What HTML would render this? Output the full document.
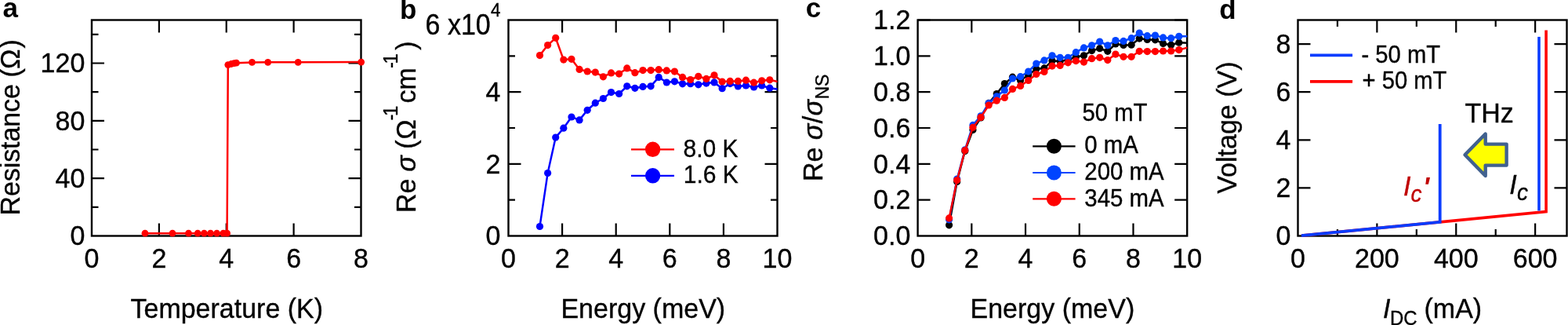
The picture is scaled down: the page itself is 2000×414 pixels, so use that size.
<!DOCTYPE html>
<html><head><meta charset="utf-8"><title>Figure</title>
<style>html,body{margin:0;padding:0;background:#fff;}svg{display:block;}</style>
</head><body>
<svg width="2000" height="414" viewBox="0 0 2000 414" font-family="Liberation Sans, Arial, sans-serif" fill="#000">
<rect width="2000" height="414" fill="#fff"/>
<defs>
<clipPath id="ca"><rect x="117" y="25.5" width="343.5" height="275"/></clipPath>
<clipPath id="cb"><rect x="648.5" y="25.5" width="343" height="275"/></clipPath>
<clipPath id="cc"><rect x="1170.6" y="25.5" width="343.6" height="275"/></clipPath>
<clipPath id="cd"><rect x="1655.5" y="25.5" width="343" height="275"/></clipPath>
</defs>
<path d="M202.88 300.5V284.5M202.88 25.5V41.5M288.75 300.5V284.5M288.75 25.5V41.5M374.62 300.5V284.5M374.62 25.5V41.5M117 227.17H133M460.5 227.17H444.5M117 153.83H133M460.5 153.83H444.5M117 80.5H133M460.5 80.5H444.5M117 263.83H125.5M460.5 263.83H452M117 190.5H125.5M460.5 190.5H452M117 117.17H125.5M460.5 117.17H452M117 43.83H125.5M460.5 43.83H452" stroke="#000" stroke-width="2.2" fill="none"/>
<rect x="117" y="25.5" width="343.5" height="275" fill="none" stroke="#000" stroke-width="2.4" stroke-linejoin="miter"/>
<polyline points="185,297.2 220,297.2 240.5,297.2 252.2,297.2 260.4,297.2 268.5,297.2 276.6,297.2 284.8,297.2 289.6,297.2 290.8,82.6 295,81.5 298.5,80.6 301.5,80.2 321.5,79.4 341.7,79.3 380.2,79.3 460.7,79.1" fill="none" stroke="#ff0000" stroke-width="2.5" stroke-linejoin="round"/>
<g fill="#ff0000"><circle cx="185" cy="297.2" r="4.4"/><circle cx="220" cy="297.2" r="4.4"/><circle cx="240.5" cy="297.2" r="4.4"/><circle cx="252.2" cy="297.2" r="4.4"/><circle cx="260.4" cy="297.2" r="4.4"/><circle cx="268.5" cy="297.2" r="4.4"/><circle cx="276.6" cy="297.2" r="4.4"/><circle cx="284.8" cy="297.2" r="4.4"/><circle cx="289.6" cy="297.2" r="4.4"/><circle cx="290.8" cy="82.6" r="4.4"/><circle cx="295" cy="81.5" r="4.4"/><circle cx="298.5" cy="80.6" r="4.4"/><circle cx="301.5" cy="80.2" r="4.4"/><circle cx="321.5" cy="79.4" r="4.4"/><circle cx="341.7" cy="79.3" r="4.4"/><circle cx="380.2" cy="79.3" r="4.4"/><circle cx="460.7" cy="79.1" r="4.4"/></g>
<text transform="translate(108.3 312.3) scale(1 1.05)" font-size="34" text-anchor="end" stroke="#000" stroke-width="0.35">0</text>
<text transform="translate(108.3 238.97) scale(1 1.05)" font-size="34" text-anchor="end" stroke="#000" stroke-width="0.35">40</text>
<text transform="translate(108.3 165.63) scale(1 1.05)" font-size="34" text-anchor="end" stroke="#000" stroke-width="0.35">80</text>
<text transform="translate(108.3 92.3) scale(1 1.05)" font-size="34" text-anchor="end" stroke="#000" stroke-width="0.35">120</text>
<text transform="translate(117 341) scale(1 1.05)" font-size="34" text-anchor="middle" stroke="#000" stroke-width="0.35">0</text>
<text transform="translate(202.88 341) scale(1 1.05)" font-size="34" text-anchor="middle" stroke="#000" stroke-width="0.35">2</text>
<text transform="translate(288.75 341) scale(1 1.05)" font-size="34" text-anchor="middle" stroke="#000" stroke-width="0.35">4</text>
<text transform="translate(374.62 341) scale(1 1.05)" font-size="34" text-anchor="middle" stroke="#000" stroke-width="0.35">6</text>
<text transform="translate(460.5 341) scale(1 1.05)" font-size="34" text-anchor="middle" stroke="#000" stroke-width="0.35">8</text>
<text transform="translate(289.3 405.2) scale(1 1.05)" font-size="34" text-anchor="middle" stroke="#000" stroke-width="0.35">Temperature (K)</text>
<text transform="translate(25 274.4) rotate(-90) scale(1 1.05)" font-size="34" letter-spacing="-0.1" stroke="#000" stroke-width="0.35">Resistance</text>
<text transform="translate(25 98.6) rotate(-90) scale(1 1.05)" font-size="34" stroke="#000" stroke-width="0.35">(</text>
<text transform="translate(25 88) rotate(-90) scale(1 1.05)" font-size="34" stroke="#000" stroke-width="0.35">Ω</text>
<text transform="translate(25 61.4) rotate(-90) scale(1 1.05)" font-size="34" stroke="#000" stroke-width="0.35">)</text>
<text transform="translate(3.5 21.9) scale(1 1)" font-size="35" font-weight="bold">a</text>
<path d="M717.1 300.5V284.5M717.1 25.5V41.5M785.7 300.5V284.5M785.7 25.5V41.5M854.3 300.5V284.5M854.3 25.5V41.5M922.9 300.5V284.5M922.9 25.5V41.5M648.5 208.83H664.5M991.5 208.83H975.5M648.5 117.17H664.5M991.5 117.17H975.5M648.5 254.67H657M991.5 254.67H983M648.5 163H657M991.5 163H983M648.5 71.33H657M991.5 71.33H983" stroke="#000" stroke-width="2.2" fill="none"/>
<rect x="648.5" y="25.5" width="343" height="275" fill="none" stroke="#000" stroke-width="2.4" stroke-linejoin="miter"/>
<polyline points="688.5,288.5 698.61,220.6 708.73,175.1 718.84,163.2 728.96,149 739.07,152.9 749.18,140.3 759.3,131.2 769.41,125.5 779.53,117.6 789.64,119.5 799.75,109.8 809.87,112.3 819.98,110.4 830.1,109.8 840.21,98.4 850.32,105 860.44,103.8 870.55,106.8 880.67,106.7 890.78,107.8 900.89,106.1 911.01,104.9 921.12,112.7 931.24,106.6 941.35,110 951.46,109 961.58,111 971.69,109 981.81,112.2 1001.9,115" fill="none" stroke="#0000ff" stroke-width="2.5" stroke-linejoin="round" clip-path="url(#cb)"/>
<g fill="#0000ff"><circle cx="688.5" cy="288.5" r="4.6"/><circle cx="698.61" cy="220.6" r="4.6"/><circle cx="708.73" cy="175.1" r="4.6"/><circle cx="718.84" cy="163.2" r="4.6"/><circle cx="728.96" cy="149" r="4.6"/><circle cx="739.07" cy="152.9" r="4.6"/><circle cx="749.18" cy="140.3" r="4.6"/><circle cx="759.3" cy="131.2" r="4.6"/><circle cx="769.41" cy="125.5" r="4.6"/><circle cx="779.53" cy="117.6" r="4.6"/><circle cx="789.64" cy="119.5" r="4.6"/><circle cx="799.75" cy="109.8" r="4.6"/><circle cx="809.87" cy="112.3" r="4.6"/><circle cx="819.98" cy="110.4" r="4.6"/><circle cx="830.1" cy="109.8" r="4.6"/><circle cx="840.21" cy="98.4" r="4.6"/><circle cx="850.32" cy="105" r="4.6"/><circle cx="860.44" cy="103.8" r="4.6"/><circle cx="870.55" cy="106.8" r="4.6"/><circle cx="880.67" cy="106.7" r="4.6"/><circle cx="890.78" cy="107.8" r="4.6"/><circle cx="900.89" cy="106.1" r="4.6"/><circle cx="911.01" cy="104.9" r="4.6"/><circle cx="921.12" cy="112.7" r="4.6"/><circle cx="931.24" cy="106.6" r="4.6"/><circle cx="941.35" cy="110" r="4.6"/><circle cx="951.46" cy="109" r="4.6"/><circle cx="961.58" cy="111" r="4.6"/><circle cx="971.69" cy="109" r="4.6"/><circle cx="981.81" cy="112.2" r="4.6"/></g>
<polyline points="688.5,70.6 698.61,57.6 708.73,48.3 718.84,76.1 728.96,75.3 739.07,88.4 749.18,91 759.3,92.1 769.41,97.8 779.53,92.9 789.64,94.1 799.75,86.9 809.87,92.7 819.98,89.6 830.1,89.6 840.21,88.7 850.32,89.9 860.44,91.1 870.55,98.4 880.67,101.5 890.78,97.3 900.89,100.4 911.01,95.8 921.12,104 931.24,103.4 941.35,103.4 951.46,102.2 961.58,105.2 971.69,102.8 981.81,101.8 1001.9,106.2" fill="none" stroke="#ff0000" stroke-width="2.5" stroke-linejoin="round" clip-path="url(#cb)"/>
<g fill="#ff0000"><circle cx="688.5" cy="70.6" r="4.6"/><circle cx="698.61" cy="57.6" r="4.6"/><circle cx="708.73" cy="48.3" r="4.6"/><circle cx="718.84" cy="76.1" r="4.6"/><circle cx="728.96" cy="75.3" r="4.6"/><circle cx="739.07" cy="88.4" r="4.6"/><circle cx="749.18" cy="91" r="4.6"/><circle cx="759.3" cy="92.1" r="4.6"/><circle cx="769.41" cy="97.8" r="4.6"/><circle cx="779.53" cy="92.9" r="4.6"/><circle cx="789.64" cy="94.1" r="4.6"/><circle cx="799.75" cy="86.9" r="4.6"/><circle cx="809.87" cy="92.7" r="4.6"/><circle cx="819.98" cy="89.6" r="4.6"/><circle cx="830.1" cy="89.6" r="4.6"/><circle cx="840.21" cy="88.7" r="4.6"/><circle cx="850.32" cy="89.9" r="4.6"/><circle cx="860.44" cy="91.1" r="4.6"/><circle cx="870.55" cy="98.4" r="4.6"/><circle cx="880.67" cy="101.5" r="4.6"/><circle cx="890.78" cy="97.3" r="4.6"/><circle cx="900.89" cy="100.4" r="4.6"/><circle cx="911.01" cy="95.8" r="4.6"/><circle cx="921.12" cy="104" r="4.6"/><circle cx="931.24" cy="103.4" r="4.6"/><circle cx="941.35" cy="103.4" r="4.6"/><circle cx="951.46" cy="102.2" r="4.6"/><circle cx="961.58" cy="105.2" r="4.6"/><circle cx="971.69" cy="102.8" r="4.6"/><circle cx="981.81" cy="101.8" r="4.6"/></g>
<text transform="translate(638.5 312.3) scale(1 1.05)" font-size="34" text-anchor="end" stroke="#000" stroke-width="0.35">0</text>
<text transform="translate(638.5 220.63) scale(1 1.05)" font-size="34" text-anchor="end" stroke="#000" stroke-width="0.35">2</text>
<text transform="translate(638.5 128.97) scale(1 1.05)" font-size="34" text-anchor="end" stroke="#000" stroke-width="0.35">4</text>
<text transform="translate(648.5 341) scale(1 1.05)" font-size="34" text-anchor="middle" stroke="#000" stroke-width="0.35">0</text>
<text transform="translate(717.1 341) scale(1 1.05)" font-size="34" text-anchor="middle" stroke="#000" stroke-width="0.35">2</text>
<text transform="translate(785.7 341) scale(1 1.05)" font-size="34" text-anchor="middle" stroke="#000" stroke-width="0.35">4</text>
<text transform="translate(854.3 341) scale(1 1.05)" font-size="34" text-anchor="middle" stroke="#000" stroke-width="0.35">6</text>
<text transform="translate(922.9 341) scale(1 1.05)" font-size="34" text-anchor="middle" stroke="#000" stroke-width="0.35">8</text>
<text transform="translate(991.5 341) scale(1 1.05)" font-size="34" text-anchor="middle" stroke="#000" stroke-width="0.35">10</text>
<text transform="translate(820.3 404.9) scale(1 1.05)" font-size="34" text-anchor="middle" stroke="#000" stroke-width="0.35">Energy (meV)</text>
<text transform="translate(542.6 43.7) scale(1 1.065)" font-size="34" stroke="#000" stroke-width="0.35">6 x10</text>
<text transform="translate(626 20.6) scale(1 1.05)" font-size="22.5" stroke="#000" stroke-width="0.35">4</text>
<text transform="translate(530 271) rotate(-90) scale(1 1.05)" font-size="34" stroke="#000" stroke-width="0.35">Re</text>
<text transform="translate(530 218.7) rotate(-90) scale(1 1.05)" font-size="34" font-style="italic" stroke="#000" stroke-width="0.35">σ</text>
<text transform="translate(530 189.7) rotate(-90) scale(1 1.05)" font-size="34" stroke="#000" stroke-width="0.35">(</text>
<text transform="translate(530 177.7) rotate(-90) scale(1 1.05)" font-size="34" stroke="#000" stroke-width="0.35">Ω</text>
<text transform="translate(507.2 153.6) rotate(-90) scale(1 1.05)" font-size="24" letter-spacing="-2.5" stroke="#000" stroke-width="0.35">-1</text>
<text transform="translate(530 131.5) rotate(-90) scale(1 1.05)" font-size="34" stroke="#000" stroke-width="0.35">cm</text>
<text transform="translate(507.2 87) rotate(-90) scale(1 1.05)" font-size="24" letter-spacing="-2.5" stroke="#000" stroke-width="0.35">-1</text>
<text transform="translate(530 63.8) rotate(-90) scale(1 1.05)" font-size="34" stroke="#000" stroke-width="0.35">)</text>
<text transform="translate(510.1 24.4) scale(1 1)" font-size="35" font-weight="bold">b</text>
<line x1="805" y1="190.3" x2="860" y2="190.3" stroke="#ff0000" stroke-width="2.2"/>
<circle cx="832.6" cy="190.3" r="9.7" fill="#ff0000"/>
<line x1="805" y1="223.8" x2="860" y2="223.8" stroke="#0000ff" stroke-width="2.2"/>
<circle cx="832.6" cy="223.8" r="9.7" fill="#0000ff"/>
<text transform="translate(871.5 200.1) scale(1 1.05)" font-size="30" stroke="#000" stroke-width="0.35">8.0 K</text>
<text transform="translate(871.7 232.9) scale(1 1.05)" font-size="30" stroke="#000" stroke-width="0.35">1.6 K</text>
<path d="M1239.32 300.5V284.5M1239.32 25.5V41.5M1308.04 300.5V284.5M1308.04 25.5V41.5M1376.76 300.5V284.5M1376.76 25.5V41.5M1445.48 300.5V284.5M1445.48 25.5V41.5M1170.6 254.67H1186.6M1514.2 254.67H1498.2M1170.6 208.83H1186.6M1514.2 208.83H1498.2M1170.6 163H1186.6M1514.2 163H1498.2M1170.6 117.17H1186.6M1514.2 117.17H1498.2M1170.6 71.33H1186.6M1514.2 71.33H1498.2M1170.6 25.5H1186.6M1514.2 25.5H1498.2" stroke="#000" stroke-width="2.2" fill="none"/>
<rect x="1170.6" y="25.5" width="343.6" height="275" fill="none" stroke="#000" stroke-width="2.4" stroke-linejoin="miter"/>
<polyline points="1210.6,286.8 1220.71,231.5 1230.82,192.5 1240.93,165.5 1251.04,150 1261.15,131.4 1271.26,119.5 1281.37,106.6 1291.48,98.2 1301.59,102.5 1311.7,95.4 1321.81,87.8 1331.92,86.9 1342.03,77.6 1352.14,78 1362.25,76.2 1372.36,72.5 1382.47,70.8 1392.58,64.6 1402.69,61.7 1412.8,65.3 1422.91,56 1433.02,57.5 1443.13,57.2 1453.24,49.1 1463.35,50.5 1473.46,50.8 1483.57,55.4 1493.68,57.2 1503.79,54.2 1524,55.4" fill="none" stroke="#000000" stroke-width="2.5" stroke-linejoin="round" clip-path="url(#cc)"/>
<g fill="#000000"><circle cx="1210.6" cy="286.8" r="4.6"/><circle cx="1220.71" cy="231.5" r="4.6"/><circle cx="1230.82" cy="192.5" r="4.6"/><circle cx="1240.93" cy="165.5" r="4.6"/><circle cx="1251.04" cy="150" r="4.6"/><circle cx="1261.15" cy="131.4" r="4.6"/><circle cx="1271.26" cy="119.5" r="4.6"/><circle cx="1281.37" cy="106.6" r="4.6"/><circle cx="1291.48" cy="98.2" r="4.6"/><circle cx="1301.59" cy="102.5" r="4.6"/><circle cx="1311.7" cy="95.4" r="4.6"/><circle cx="1321.81" cy="87.8" r="4.6"/><circle cx="1331.92" cy="86.9" r="4.6"/><circle cx="1342.03" cy="77.6" r="4.6"/><circle cx="1352.14" cy="78" r="4.6"/><circle cx="1362.25" cy="76.2" r="4.6"/><circle cx="1372.36" cy="72.5" r="4.6"/><circle cx="1382.47" cy="70.8" r="4.6"/><circle cx="1392.58" cy="64.6" r="4.6"/><circle cx="1402.69" cy="61.7" r="4.6"/><circle cx="1412.8" cy="65.3" r="4.6"/><circle cx="1422.91" cy="56" r="4.6"/><circle cx="1433.02" cy="57.5" r="4.6"/><circle cx="1443.13" cy="57.2" r="4.6"/><circle cx="1453.24" cy="49.1" r="4.6"/><circle cx="1463.35" cy="50.5" r="4.6"/><circle cx="1473.46" cy="50.8" r="4.6"/><circle cx="1483.57" cy="55.4" r="4.6"/><circle cx="1493.68" cy="57.2" r="4.6"/><circle cx="1503.79" cy="54.2" r="4.6"/></g>
<polyline points="1210.6,279.8 1220.71,228 1230.82,190.8 1240.93,159.4 1251.04,147.8 1261.15,131.5 1271.26,122.8 1281.37,115 1291.48,100 1301.59,97.7 1311.7,91.1 1321.81,81 1331.92,76.9 1342.03,70.8 1352.14,73.3 1362.25,73.3 1372.36,66.7 1382.47,60.9 1392.58,57.8 1402.69,53 1412.8,57.8 1422.91,51.5 1433.02,52.4 1443.13,48.7 1453.24,42.1 1463.35,45.7 1473.46,45.1 1483.57,47.9 1493.68,48.7 1503.79,46.3 1524,46.3" fill="none" stroke="#0044ff" stroke-width="2.5" stroke-linejoin="round" clip-path="url(#cc)"/>
<g fill="#0044ff"><circle cx="1210.6" cy="279.8" r="4.6"/><circle cx="1220.71" cy="228" r="4.6"/><circle cx="1230.82" cy="190.8" r="4.6"/><circle cx="1240.93" cy="159.4" r="4.6"/><circle cx="1251.04" cy="147.8" r="4.6"/><circle cx="1261.15" cy="131.5" r="4.6"/><circle cx="1271.26" cy="122.8" r="4.6"/><circle cx="1281.37" cy="115" r="4.6"/><circle cx="1291.48" cy="100" r="4.6"/><circle cx="1301.59" cy="97.7" r="4.6"/><circle cx="1311.7" cy="91.1" r="4.6"/><circle cx="1321.81" cy="81" r="4.6"/><circle cx="1331.92" cy="76.9" r="4.6"/><circle cx="1342.03" cy="70.8" r="4.6"/><circle cx="1352.14" cy="73.3" r="4.6"/><circle cx="1362.25" cy="73.3" r="4.6"/><circle cx="1372.36" cy="66.7" r="4.6"/><circle cx="1382.47" cy="60.9" r="4.6"/><circle cx="1392.58" cy="57.8" r="4.6"/><circle cx="1402.69" cy="53" r="4.6"/><circle cx="1412.8" cy="57.8" r="4.6"/><circle cx="1422.91" cy="51.5" r="4.6"/><circle cx="1433.02" cy="52.4" r="4.6"/><circle cx="1443.13" cy="48.7" r="4.6"/><circle cx="1453.24" cy="42.1" r="4.6"/><circle cx="1463.35" cy="45.7" r="4.6"/><circle cx="1473.46" cy="45.1" r="4.6"/><circle cx="1483.57" cy="47.9" r="4.6"/><circle cx="1493.68" cy="48.7" r="4.6"/><circle cx="1503.79" cy="46.3" r="4.6"/></g>
<polyline points="1210.6,277.9 1220.71,229.6 1230.82,191.6 1240.93,162.3 1251.04,149.4 1261.15,134 1271.26,128.2 1281.37,124.4 1291.48,113.4 1301.59,109.4 1311.7,102.5 1321.81,94.5 1331.92,91.5 1342.03,84.1 1352.14,83.4 1362.25,79.8 1372.36,77.6 1382.47,79.1 1392.58,74.7 1402.69,73.3 1412.8,76.6 1422.91,69.1 1433.02,72.3 1443.13,72.3 1453.24,65.3 1463.35,65.6 1473.46,65.6 1483.57,65 1493.68,65 1503.79,63.6 1524,58" fill="none" stroke="#ff0000" stroke-width="2.5" stroke-linejoin="round" clip-path="url(#cc)"/>
<g fill="#ff0000"><circle cx="1210.6" cy="277.9" r="4.6"/><circle cx="1220.71" cy="229.6" r="4.6"/><circle cx="1230.82" cy="191.6" r="4.6"/><circle cx="1240.93" cy="162.3" r="4.6"/><circle cx="1251.04" cy="149.4" r="4.6"/><circle cx="1261.15" cy="134" r="4.6"/><circle cx="1271.26" cy="128.2" r="4.6"/><circle cx="1281.37" cy="124.4" r="4.6"/><circle cx="1291.48" cy="113.4" r="4.6"/><circle cx="1301.59" cy="109.4" r="4.6"/><circle cx="1311.7" cy="102.5" r="4.6"/><circle cx="1321.81" cy="94.5" r="4.6"/><circle cx="1331.92" cy="91.5" r="4.6"/><circle cx="1342.03" cy="84.1" r="4.6"/><circle cx="1352.14" cy="83.4" r="4.6"/><circle cx="1362.25" cy="79.8" r="4.6"/><circle cx="1372.36" cy="77.6" r="4.6"/><circle cx="1382.47" cy="79.1" r="4.6"/><circle cx="1392.58" cy="74.7" r="4.6"/><circle cx="1402.69" cy="73.3" r="4.6"/><circle cx="1412.8" cy="76.6" r="4.6"/><circle cx="1422.91" cy="69.1" r="4.6"/><circle cx="1433.02" cy="72.3" r="4.6"/><circle cx="1443.13" cy="72.3" r="4.6"/><circle cx="1453.24" cy="65.3" r="4.6"/><circle cx="1463.35" cy="65.6" r="4.6"/><circle cx="1473.46" cy="65.6" r="4.6"/><circle cx="1483.57" cy="65" r="4.6"/><circle cx="1493.68" cy="65" r="4.6"/><circle cx="1503.79" cy="63.6" r="4.6"/></g>
<text transform="translate(1161.3 312.3) scale(1 1.05)" font-size="34" text-anchor="end" stroke="#000" stroke-width="0.35">0.0</text>
<text transform="translate(1161.3 266.47) scale(1 1.05)" font-size="34" text-anchor="end" stroke="#000" stroke-width="0.35">0.2</text>
<text transform="translate(1161.3 220.63) scale(1 1.05)" font-size="34" text-anchor="end" stroke="#000" stroke-width="0.35">0.4</text>
<text transform="translate(1161.3 174.8) scale(1 1.05)" font-size="34" text-anchor="end" stroke="#000" stroke-width="0.35">0.6</text>
<text transform="translate(1161.3 128.97) scale(1 1.05)" font-size="34" text-anchor="end" stroke="#000" stroke-width="0.35">0.8</text>
<text transform="translate(1161.3 83.13) scale(1 1.05)" font-size="34" text-anchor="end" stroke="#000" stroke-width="0.35">1.0</text>
<text transform="translate(1161.3 37.3) scale(1 1.05)" font-size="34" text-anchor="end" stroke="#000" stroke-width="0.35">1.2</text>
<text transform="translate(1170.6 341) scale(1 1.05)" font-size="34" text-anchor="middle" stroke="#000" stroke-width="0.35">0</text>
<text transform="translate(1239.32 341) scale(1 1.05)" font-size="34" text-anchor="middle" stroke="#000" stroke-width="0.35">2</text>
<text transform="translate(1308.04 341) scale(1 1.05)" font-size="34" text-anchor="middle" stroke="#000" stroke-width="0.35">4</text>
<text transform="translate(1376.76 341) scale(1 1.05)" font-size="34" text-anchor="middle" stroke="#000" stroke-width="0.35">6</text>
<text transform="translate(1445.48 341) scale(1 1.05)" font-size="34" text-anchor="middle" stroke="#000" stroke-width="0.35">8</text>
<text transform="translate(1514.2 341) scale(1 1.05)" font-size="34" text-anchor="middle" stroke="#000" stroke-width="0.35">10</text>
<text transform="translate(1342.4 404.9) scale(1 1.05)" font-size="34" text-anchor="middle" stroke="#000" stroke-width="0.35">Energy (meV)</text>
<text transform="translate(1048.7 231) rotate(-90) scale(1 1.05)" font-size="34" stroke="#000" stroke-width="0.35">Re</text>
<text transform="translate(1048.7 178.3) rotate(-90) scale(1 1.05)" font-size="34" font-style="italic" stroke="#000" stroke-width="0.35">σ</text>
<text transform="translate(1048.7 157.3) rotate(-90) scale(1 1.05)" font-size="34" stroke="#000" stroke-width="0.35">/</text>
<text transform="translate(1048.7 147.6) rotate(-90) scale(1 1.05)" font-size="34" font-style="italic" stroke="#000" stroke-width="0.35">σ</text>
<text transform="translate(1056.6 126.5) rotate(-90) scale(1 1.05)" font-size="23" stroke="#000" stroke-width="0.35">NS</text>
<text transform="translate(1027.7 21.9) scale(1 1)" font-size="35" font-weight="bold">c</text>
<text transform="translate(1380.5 153.7) scale(1 1.05)" font-size="29.3" stroke="#000" stroke-width="0.35">50 mT</text>
<line x1="1317.2" y1="186.3" x2="1371.6" y2="186.3" stroke="#000000" stroke-width="2.2"/>
<circle cx="1344.4" cy="186.3" r="9.5" fill="#000000"/>
<text transform="translate(1383.3 195.1) scale(1 1.05)" font-size="29.4" stroke="#000" stroke-width="0.35">0 mA</text>
<line x1="1317.2" y1="220.0" x2="1371.6" y2="220.0" stroke="#0044ff" stroke-width="2.2"/>
<circle cx="1344.4" cy="220.0" r="9.5" fill="#0044ff"/>
<text transform="translate(1383.3 229.2) scale(1 1.05)" font-size="29.4" stroke="#000" stroke-width="0.35">200 mA</text>
<line x1="1317.2" y1="253.3" x2="1371.6" y2="253.3" stroke="#ff0000" stroke-width="2.2"/>
<circle cx="1344.4" cy="253.3" r="9.5" fill="#ff0000"/>
<text transform="translate(1383.3 262.5) scale(1 1.05)" font-size="29.4" stroke="#000" stroke-width="0.35">345 mA</text>
<path d="M1756.38 300.5V284.5M1756.38 25.5V41.5M1857.26 300.5V284.5M1857.26 25.5V41.5M1958.15 300.5V284.5M1958.15 25.5V41.5M1705.94 300.5V292M1705.94 25.5V34M1806.82 300.5V292M1806.82 25.5V34M1907.71 300.5V292M1907.71 25.5V34M1655.5 239.39H1671.5M1998.5 239.39H1982.5M1655.5 178.28H1671.5M1998.5 178.28H1982.5M1655.5 117.17H1671.5M1998.5 117.17H1982.5M1655.5 56.06H1671.5M1998.5 56.06H1982.5" stroke="#000" stroke-width="2.2" fill="none"/>
<rect x="1655.5" y="25.5" width="343" height="275" fill="none" stroke="#000" stroke-width="2.4" stroke-linejoin="miter"/>
<polyline points="1660,300.1 1972.1,269.6 1972.1,38.4" fill="none" stroke="#ff0000" stroke-width="3.6" stroke-linejoin="miter"/>
<polyline points="1660,300.1 1836.7,282.8 1836.7,158" fill="none" stroke="#0a3cff" stroke-width="3.8" stroke-linejoin="miter"/>
<line x1="1963" y1="268.5" x2="1963" y2="46.9" stroke="#0a3cff" stroke-width="3.6"/>
<text transform="translate(1646.3 312.3) scale(1 1.05)" font-size="34" text-anchor="end" stroke="#000" stroke-width="0.35">0</text>
<text transform="translate(1646.3 251.19) scale(1 1.05)" font-size="34" text-anchor="end" stroke="#000" stroke-width="0.35">2</text>
<text transform="translate(1646.3 190.08) scale(1 1.05)" font-size="34" text-anchor="end" stroke="#000" stroke-width="0.35">4</text>
<text transform="translate(1646.3 128.97) scale(1 1.05)" font-size="34" text-anchor="end" stroke="#000" stroke-width="0.35">6</text>
<text transform="translate(1646.3 67.86) scale(1 1.05)" font-size="34" text-anchor="end" stroke="#000" stroke-width="0.35">8</text>
<text transform="translate(1655.5 341) scale(1 1.05)" font-size="34" text-anchor="middle" stroke="#000" stroke-width="0.35">0</text>
<text transform="translate(1756.38 341) scale(1 1.05)" font-size="34" text-anchor="middle" stroke="#000" stroke-width="0.35">200</text>
<text transform="translate(1857.26 341) scale(1 1.05)" font-size="34" text-anchor="middle" stroke="#000" stroke-width="0.35">400</text>
<text transform="translate(1958.15 341) scale(1 1.05)" font-size="34" text-anchor="middle" stroke="#000" stroke-width="0.35">600</text>
<text transform="translate(1764 405) scale(1 1.05)" font-size="34" font-style="italic" stroke="#000" stroke-width="0.35">I</text>
<text transform="translate(1773 414.3) scale(1 1.05)" font-size="24" stroke="#000" stroke-width="0.35">DC</text>
<text transform="translate(1816.5 405) scale(1 1.05)" font-size="34" stroke="#000" stroke-width="0.35">(mA)</text>
<text transform="translate(1576.5 246.7) rotate(-90) scale(1 1.05)" font-size="34" stroke="#000" stroke-width="0.35">Voltage (V)</text>
<text transform="translate(1555.2 24.4) scale(1 1)" font-size="35" font-weight="bold">d</text>
<line x1="1671" y1="70.3" x2="1725.1" y2="70.3" stroke="#0a3cff" stroke-width="3.7"/>
<line x1="1671" y1="103.8" x2="1725.1" y2="103.8" stroke="#ff0000" stroke-width="3.7"/>
<text transform="translate(1736.5 80.1) scale(1 1.05)" font-size="29.2" stroke="#000" stroke-width="0.35">- 50 mT</text>
<text transform="translate(1737.5 112.9) scale(1 1.05)" font-size="29.2" stroke="#000" stroke-width="0.35">+ 50 mT</text>
<text transform="translate(1868.5 156.1) scale(1 1.05)" font-size="34" stroke="#000" stroke-width="0.35">THz</text>
<polygon points="1868.5,197.2 1894.7,170.5 1894.7,183.6 1921.6,183.6 1921.6,210.6 1894.7,210.6 1894.7,224" fill="#ffff00" stroke="#41618f" stroke-width="4.4" stroke-linejoin="round"/>
<text transform="translate(1790 248.5) scale(1 1.05)" font-size="34" font-style="italic" fill="#c00000" stroke="#c00000" stroke-width="0.35">I</text>
<text transform="translate(1799.4 257.4) scale(1 1.05)" font-size="28" font-style="italic" fill="#c00000" stroke="#c00000" stroke-width="0.35">c</text>
<text transform="translate(1815 249.5) scale(1 1.05)" font-size="34" font-style="italic" fill="#c00000" font-weight="bold">'</text>
<text transform="translate(1925.2 247.1) scale(1 1.05)" font-size="34" font-style="italic" stroke="#000" stroke-width="0.35">I</text>
<text transform="translate(1934.9 255.4) scale(1 1.05)" font-size="28" font-style="italic" stroke="#000" stroke-width="0.35">c</text>
</svg>
</body></html>
